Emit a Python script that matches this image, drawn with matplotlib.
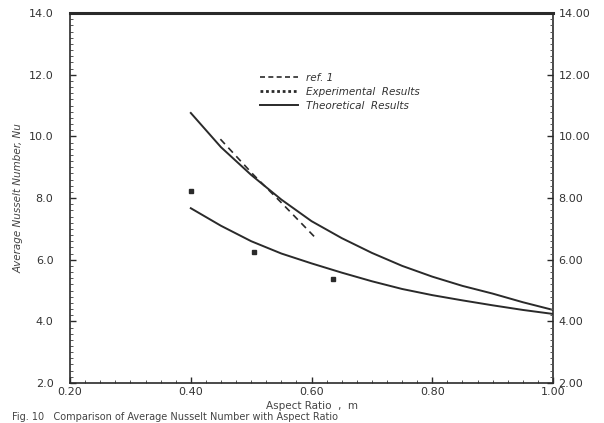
import matplotlib
matplotlib.use("Agg")
import matplotlib.pyplot as plt
from matplotlib.ticker import MultipleLocator, FormatStrFormatter
from matplotlib.lines import Line2D

# Theoretical results (upper curve)
theo_upper_x = [0.40, 0.45, 0.50, 0.55, 0.60, 0.65, 0.70, 0.75, 0.80, 0.85, 0.90, 0.95, 1.00]
theo_upper_y = [10.76, 9.65, 8.75, 7.95, 7.25, 6.70, 6.22, 5.80, 5.45, 5.15, 4.90, 4.62, 4.37]
# Theoretical results (lower curve)
theo_lower_x = [0.40, 0.45, 0.50, 0.55, 0.60, 0.65, 0.70, 0.75, 0.80, 0.85, 0.90, 0.95, 1.00]
theo_lower_y = [7.67, 7.10, 6.60, 6.20, 5.88, 5.58, 5.30, 5.05, 4.85, 4.68, 4.52, 4.37, 4.24]
# ref. 1
ref_x = [0.449, 0.504, 0.549, 0.607]
ref_y = [9.91, 8.75, 7.87, 6.70]
# Experimental results
exp_x = [0.40, 0.504, 0.635]
exp_y = [8.22, 6.24, 5.36]

xticks = [0.20, 0.40, 0.60, 0.80, 1.00]
yticks = [2.0, 4.0, 6.0, 8.0, 10.0, 12.0, 14.0]

ink = "#2a2a2a"
fig = plt.figure(figsize=(6.04, 4.23), dpi=100)
ax = fig.add_axes([0.116, 0.0946, 0.7996, 0.8744])

ax.plot(theo_upper_x, theo_upper_y, color=ink, lw=1.4)
ax.plot(theo_lower_x, theo_lower_y, color=ink, lw=1.4)
ax.plot(ref_x, ref_y, color=ink, lw=1.2, ls=(0, (4, 3)))
ax.plot(exp_x, exp_y, ls="none", marker="s", ms=2.5, color=ink)

ax.set_xlim(0.2, 1.0)
ax.set_ylim(2.0, 14.0)
ax.set_xticks(xticks)
ax.set_yticks(yticks)
ax.xaxis.set_major_formatter(FormatStrFormatter("%.2f"))
ax.yaxis.set_major_formatter(FormatStrFormatter("%.1f"))
ax.xaxis.set_minor_locator(MultipleLocator(0.025))
ax.yaxis.set_minor_locator(MultipleLocator(0.2))

for s in ["left", "right", "bottom"]:
    ax.spines[s].set_color(ink)
    ax.spines[s].set_linewidth(1.2)
ax.spines["top"].set_color(ink)
ax.spines["top"].set_linewidth(2.2)

ax.tick_params(axis="both", which="major", direction="in", length=4, width=1,
               color=ink, labelcolor="#333333", labelsize=8)
ax.tick_params(axis="both", which="minor", direction="in", length=2, width=0.7, color="#555555")
ax.tick_params(axis="x", top=False, which="both", pad=3)
ax.tick_params(axis="y", right=True, which="both")
ax.tick_params(axis="y", which="major", pad=12)

ax2 = ax.twinx()
ax2.set_ylim(2.0, 14.0)
ax2.set_yticks(yticks)
ax2.yaxis.set_major_formatter(FormatStrFormatter("%.2f"))
ax2.yaxis.set_minor_locator(MultipleLocator(0.2))
ax2.tick_params(axis="y", which="major", direction="in", length=4, width=1,
                color=ink, labelcolor="#333333", labelsize=8, pad=4)
ax2.tick_params(axis="y", which="minor", direction="in", length=2, width=0.7, color="#555555")
for s in ax2.spines.values():
    s.set_visible(False)

ax.set_ylabel("Average Nusselt Number, Nu", fontsize=7.5, color="#444444",
              fontstyle="italic", labelpad=4)
ax.set_xlabel("Aspect Ratio  ,  m", fontsize=7.5, color="#444444", labelpad=3)

handles = [
    Line2D([], [], color=ink, lw=1.2, ls=(0, (3, 2))),
    Line2D([], [], color=ink, lw=2.0, ls=(0, (1, 1))),
    Line2D([], [], color=ink, lw=1.4),
]
labels = ["ref. 1", "Experimental  Results", "Theoretical  Results"]
leg = ax.legend(handles, labels, loc="upper left", bbox_to_anchor=(0.385, 0.85),
                frameon=False, fontsize=7.5, handlelength=3.6, handletextpad=0.8,
                labelspacing=0.4, borderaxespad=0)
for t in leg.get_texts():
    t.set_color("#333333")
    t.set_fontstyle("italic")

fig.text(0.02, 0.002, "Fig. 10   Comparison of Average Nusselt Number with Aspect Ratio",
         fontsize=7, color="#444444", va="bottom", ha="left")

fig.savefig("out.png", dpi=100)
